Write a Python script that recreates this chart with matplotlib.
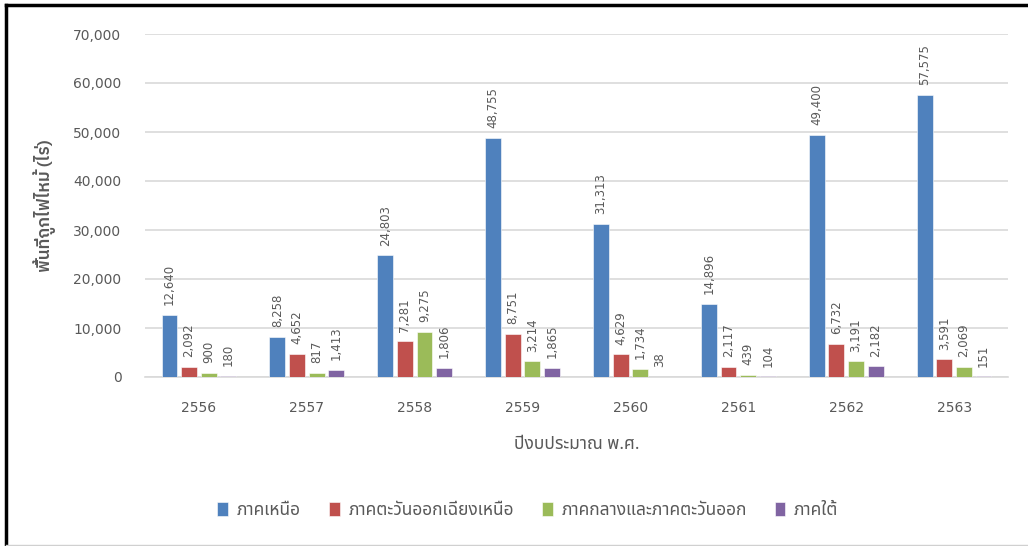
import matplotlib
matplotlib.use("Agg")
import numpy as np
import matplotlib.pyplot as plt
from matplotlib.lines import Line2D

plt.rcParams['font.family'] = ['Noto Sans Thai', 'DejaVu Sans']

years = ['2556', '2557', '2558', '2559', '2560', '2561', '2562', '2563']
regions = ['ภาคเหนือ', 'ภาคตะวันออกเฉียงเหนือ', 'ภาคกลางและภาคตะวันออก', 'ภาคใต้']
north = [12640, 8258, 24803, 48755, 31313, 14896, 49400, 57575]
northeast = [2092, 4652, 7281, 8751, 4629, 2117, 6732, 3591]
central_east = [900, 817, 9275, 3214, 1734, 439, 3191, 2069]
south = [180, 1413, 1806, 1865, 38, 104, 2182, 151]
colors = ['#4F81BD', '#C0504D', '#9BBB59', '#8064A2']

series = [north, northeast, central_east, south]
txt = '#595959'

fig = plt.figure(figsize=(10.28, 5.46), dpi=100)
ax = fig.add_axes([145/1028, 1-377/546, 863/1028, 343/546])

x = np.arange(len(years))
step = 0.182
width = 0.148
for i, vals in enumerate(series):
    pos = x + (i - 1.5) * step
    ax.bar(pos, vals, width, color=colors[i], edgecolor='white', linewidth=0.4,
           label=regions[i], zorder=3)
    for p, v in zip(pos, vals):
        ax.annotate(f'{v:,}', (p, v), xytext=(0, 7), textcoords='offset points',
                    rotation=90, ha='center', va='bottom', fontsize=8.5, color=txt,
                    family='DejaVu Sans')

ax.set_xlim(-0.5, len(years) - 0.5)
ax.set_ylim(0, 70000)
ax.set_yticks(np.arange(0, 70001, 10000))
ax.set_yticklabels([f'{t:,}' for t in range(0, 70001, 10000)], family='DejaVu Sans')
ax.set_xticks(x)
ax.set_xticklabels(years, family='DejaVu Sans')
ax.tick_params(axis='y', length=0, pad=17, labelsize=10, labelcolor=txt)
ax.tick_params(axis='x', length=0, pad=17, labelsize=10, labelcolor=txt)
ax.grid(axis='y', color='#D9D9D9', linewidth=1.2, zorder=0)
for s in ['top', 'right', 'left']:
    ax.spines[s].set_visible(False)
ax.spines['bottom'].set_color('#D9D9D9')
ax.spines['bottom'].set_linewidth(1.2)

ax.set_ylabel('พื้นที่ถูกไฟไหม้ (ไร่)', fontsize=12.5, fontweight='semibold', color=txt,
              family=['IBM Plex Sans Thai', 'DejaVu Sans'])
ax.yaxis.set_label_coords(-0.103, 0.5)
ax.set_xlabel('ปีงบประมาณ พ.ศ.', fontsize=12.5, color=txt)
ax.xaxis.set_label_coords(0.5, -0.17)

leg = fig.legend(loc='center', bbox_to_anchor=(528/1028, 1-510/546), ncol=4, frameon=False,
                 fontsize=12.5, handlelength=0.63, handleheight=0.8, columnspacing=1.6,
                 handletextpad=0.5)
for t in leg.get_texts():
    t.set_color(txt)

# frame around the chart like the screenshot
fig.add_artist(Line2D([6/1028, 1], [1-5/546, 1-5/546], color='black', linewidth=2.5))
fig.add_artist(Line2D([6/1028, 6/1028], [1-545/546, 1-5/546], color='black', linewidth=2.5))
fig.add_artist(Line2D([6/1028, 1], [1-545/546, 1-545/546], color='#D0D0D0', linewidth=1))

fig.savefig('out.png', dpi=100)
